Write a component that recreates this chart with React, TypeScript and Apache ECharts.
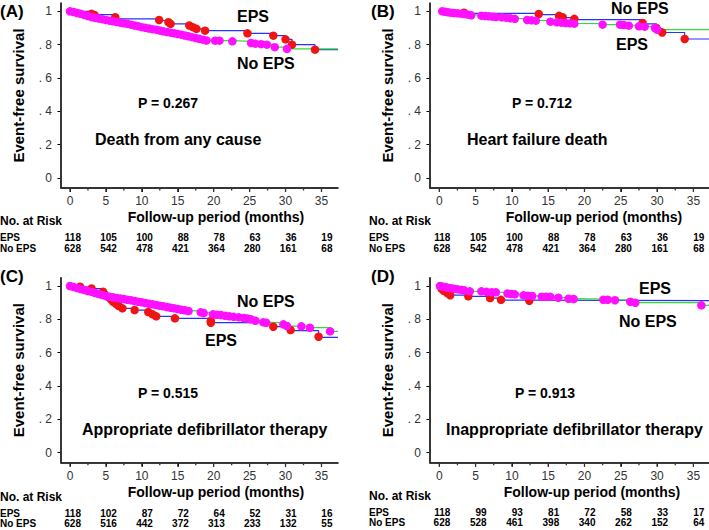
import React, { useEffect, useRef } from "react";
import * as echarts from "echarts";

// ---------- DATA ----------
const panelLetters = ["(A)", "(B)", "(C)", "(D)"];
const endpointTitles = [
  "Death from any cause",
  "Heart failure death",
  "Appropriate defibrillator therapy",
  "Inappropriate defibrillator therapy",
];
const pValues = ["P = 0.267", "P = 0.712", "P = 0.515", "P = 0.913"];
const groupNames = ["EPS", "No EPS"];
const xTicks = [0, 5, 10, 15, 20, 25, 30, 35];
const xMinorTicks = [2.5, 7.5, 12.5, 17.5, 22.5, 27.5, 32.5];
const yTicks = [0, 0.2, 0.4, 0.6, 0.8, 1];
const yMinorTicks = [0.1, 0.3, 0.5, 0.7, 0.9];
const riskTimes = [0, 5, 10, 15, 20, 25, 30, 35];

// Panel A: death from any cause
const epsCurveA = [[0, 1], [3.2, 0.98], [6.4, 0.955], [12.4, 0.945], [13.7, 0.935], [14.0, 0.925], [16.6, 0.915], [17.1, 0.905], [17.6, 0.895], [18.8, 0.884], [24.7, 0.868], [28.3, 0.854], [30.0, 0.832], [30.9, 0.8], [34.1, 0.77], [37.3, 0.77]];
const epsDotsA = [[3.0, 0.985], [3.4, 0.978], [6.3, 0.965], [12.4, 0.948], [13.7, 0.935], [14.0, 0.925], [16.6, 0.915], [17.1, 0.905], [17.6, 0.895], [18.8, 0.884], [24.7, 0.868], [28.3, 0.854], [30.0, 0.832], [30.9, 0.8], [34.1, 0.77]];
const noEpsDotsA = [[0, 1], [0.5, 0.996], [1.0, 0.99], [1.5, 0.985], [2.0, 0.978], [2.5, 0.972], [3.0, 0.965], [3.5, 0.961], [4.0, 0.957], [4.5, 0.953], [5.0, 0.948], [5.5, 0.944], [6.0, 0.94], [6.5, 0.936], [7.0, 0.932], [7.5, 0.928], [8.0, 0.925], [8.5, 0.92], [9.0, 0.915], [9.5, 0.91], [10.0, 0.905], [10.5, 0.901], [11.0, 0.897], [11.5, 0.893], [12.0, 0.89], [12.5, 0.885], [13.0, 0.88], [13.5, 0.876], [14.0, 0.872], [14.5, 0.868], [15.0, 0.864], [15.5, 0.86], [16.0, 0.855], [16.5, 0.85], [17.0, 0.845], [17.5, 0.84], [18.0, 0.835], [18.5, 0.83], [19.0, 0.825], [20.2, 0.824], [20.8, 0.824], [22.6, 0.82], [25.2, 0.81], [25.8, 0.806], [26.6, 0.803], [27.4, 0.8], [28.5, 0.785], [30.2, 0.775]];
const noEpsEndA = [37.3, 0.772];
const riskEpsA = [118, 105, 100, 88, 78, 63, 36, 19];
const riskNoEpsA = [628, 542, 478, 421, 364, 280, 161, 68];

// Panel B: heart failure death
const epsCurveB = [[0, 1], [3.4, 0.988], [13.7, 0.98], [16.5, 0.972], [17.0, 0.962], [18.6, 0.95], [28.0, 0.925], [29.9, 0.895], [30.7, 0.873], [33.8, 0.834], [37.15, 0.834]];
const epsDotsB = [[3.4, 0.992], [13.7, 0.984], [16.5, 0.973], [17.0, 0.965], [18.6, 0.955], [28.0, 0.93], [29.9, 0.9], [30.7, 0.873], [33.8, 0.834]];
const noEpsDotsB = [[0.4, 1.0], [0.8, 0.997], [1.2, 0.994], [1.6, 0.992], [2.0, 0.99], [2.5, 0.988], [3.0, 0.986], [3.5, 0.984], [4.0, 0.98], [4.4, 0.976], [5.8, 0.974], [6.3, 0.972], [6.8, 0.97], [7.3, 0.968], [7.8, 0.966], [8.6, 0.964], [9.2, 0.962], [9.8, 0.958], [10.4, 0.955], [12.1, 0.948], [12.7, 0.946], [13.3, 0.944], [15.3, 0.938], [16.2, 0.934], [16.8, 0.932], [17.4, 0.93], [18.0, 0.928], [18.6, 0.926], [22.5, 0.92], [24.9, 0.92], [25.4, 0.918], [26.1, 0.914], [27.5, 0.91], [28.3, 0.908], [29.7, 0.9], [30.0, 0.89]];
const noEpsEndB = [37.15, 0.886];
const riskEpsB = [118, 105, 100, 88, 78, 63, 36, 19];
const riskNoEpsB = [628, 542, 478, 421, 364, 280, 161, 68];

// Panel C: appropriate defibrillator therapy
const epsCurveC = [[0, 1], [1.4, 0.994], [3.0, 0.984], [4.6, 0.966], [5.2, 0.945], [5.6, 0.926], [6.0, 0.91], [6.3, 0.896], [6.8, 0.88], [7.2, 0.866], [9.0, 0.856], [10.9, 0.844], [11.5, 0.83], [12.0, 0.818], [14.6, 0.806], [19.6, 0.78], [28.3, 0.756], [30.7, 0.732], [34.6, 0.692], [37.3, 0.692]];
const epsDotsC = [[1.4, 0.996], [3.0, 0.985], [4.6, 0.966], [5.3, 0.935], [5.7, 0.92], [6.0, 0.905], [6.4, 0.893], [6.8, 0.88], [7.3, 0.866], [9.0, 0.856], [10.9, 0.844], [11.5, 0.83], [12.0, 0.818], [14.6, 0.806], [19.6, 0.79], [19.6, 0.78], [28.3, 0.756], [30.7, 0.736], [34.6, 0.696]];
const noEpsDotsC = [[0, 1.0], [0.5, 0.994], [1.0, 0.988], [1.5, 0.982], [2.0, 0.976], [2.5, 0.97], [3.0, 0.965], [3.5, 0.958], [4.0, 0.952], [4.5, 0.946], [5.0, 0.94], [5.5, 0.936], [6.0, 0.932], [6.5, 0.928], [7.0, 0.925], [7.5, 0.922], [8.0, 0.918], [8.5, 0.914], [9.0, 0.91], [9.5, 0.906], [10.0, 0.902], [10.5, 0.898], [11.0, 0.894], [11.5, 0.89], [12.0, 0.886], [12.5, 0.882], [13.0, 0.878], [13.5, 0.874], [14.0, 0.87], [14.5, 0.866], [15.0, 0.862], [15.5, 0.858], [16.0, 0.854], [16.5, 0.85], [18.2, 0.842], [18.6, 0.838], [19.9, 0.83], [20.4, 0.828], [21.0, 0.826], [21.6, 0.822], [22.2, 0.818], [22.8, 0.815], [23.5, 0.812], [24.2, 0.808], [24.7, 0.805], [25.2, 0.8], [25.8, 0.792], [26.9, 0.782], [27.3, 0.78], [29.7, 0.77], [30.2, 0.76], [32.2, 0.758], [33.4, 0.75], [36.2, 0.728]];
const noEpsEndC = [37.3, 0.726];
const riskEpsC = [118, 102, 87, 72, 64, 52, 31, 16];
const riskNoEpsC = [628, 516, 442, 372, 313, 233, 132, 55];

// Panel D: inappropriate defibrillator therapy
const epsCurveD = [[0, 1], [0.3, 0.983], [0.6, 0.97], [1.1, 0.956], [1.5, 0.946], [4.0, 0.938], [7.0, 0.928], [8.5, 0.916], [12.4, 0.912], [37.15, 0.912]];
const epsDotsD = [[0.3, 0.985], [0.6, 0.972], [1.1, 0.958], [1.5, 0.945], [4.0, 0.938], [7.0, 0.928], [8.5, 0.917], [12.4, 0.912]];
const noEpsDotsD = [[0.1, 1.0], [0.4, 0.997], [0.8, 0.994], [1.2, 0.99], [1.6, 0.986], [2.0, 0.984], [2.5, 0.98], [3.0, 0.977], [3.4, 0.975], [4.2, 0.968], [5.8, 0.968], [6.5, 0.965], [7.2, 0.963], [7.8, 0.962], [9.4, 0.955], [9.9, 0.952], [10.4, 0.95], [11.6, 0.944], [12.2, 0.942], [12.8, 0.94], [14.1, 0.936], [14.7, 0.936], [15.3, 0.935], [16.4, 0.93], [17.8, 0.924], [18.5, 0.922], [22.6, 0.918], [23.2, 0.918], [24.2, 0.915], [26.3, 0.906], [27.0, 0.9], [36.1, 0.884]];
const noEpsEndD = [37.15, 0.882];
const riskEpsD = [118, 99, 93, 81, 72, 58, 33, 17];
const riskNoEpsD = [628, 528, 461, 398, 340, 262, 152, 64];

// ---------- LAYOUT ----------
const panels = [
  { eps: epsCurveA, epsDots: epsDotsA, noDots: noEpsDotsA, noEnd: noEpsEndA, rE: riskEpsA, rN: riskNoEpsA,
    left: 61, top: 3, width: 277, height: 185, xMin: -1.25, xMax: 37.3, rows: [237.7, 248.3],
    letter: [0, 11], riskTitle: [0, 221], xPad: 33,
    epsLbl: [237, 16], noLbl: [237, 63], pLbl: [138, 103], tLbl: [95, 139] },
  { eps: epsCurveB, epsDots: epsDotsB, noDots: noEpsDotsB, noEnd: noEpsEndB, rE: riskEpsB, rN: riskNoEpsB,
    left: 430, top: 3, width: 279, height: 185, xMin: -1.28, xMax: 37.15, rows: [237.7, 248.3],
    letter: [371, 11], riskTitle: [369, 221], xPad: 49,
    epsLbl: [616, 44], noLbl: [611, 8], pLbl: [512, 103], tLbl: [467, 139] },
  { eps: epsCurveC, epsDots: epsDotsC, noDots: noEpsDotsC, noEnd: noEpsEndC, rE: riskEpsC, rN: riskNoEpsC,
    left: 61, top: 277.7, width: 277, height: 185, xMin: -1.25, xMax: 37.3, rows: [513.3, 523.3],
    letter: [0, 276], riskTitle: [0, 497], xPad: 33,
    epsLbl: [205, 340], noLbl: [237, 301], pLbl: [138, 393], tLbl: [82, 429] },
  { eps: epsCurveD, epsDots: epsDotsD, noDots: noEpsDotsD, noEnd: noEpsEndD, rE: riskEpsD, rN: riskNoEpsD,
    left: 430, top: 277.7, width: 279, height: 185, xMin: -1.28, xMax: 37.15, rows: [512.7, 522.7],
    letter: [371, 276], riskTitle: [369, 496], xPad: 45,
    epsLbl: [639, 288], noLbl: [619, 321], pLbl: [515, 393], tLbl: [446, 429] },
];

const Y_MIN = -0.06;
const Y_MAX = 1.05;
const FONT = "'Liberation Sans', Arial, Helvetica, sans-serif";
const NARROW = "'Liberation Sans Narrow', 'Arial Narrow', 'Liberation Sans', sans-serif";
const AXIS_COLOR = "#333";
const BLUE = "#2233ff";
const GREEN = "#33dd33";
const RED = "#f01414";
const MAGENTA = "#ff10ff";
// tick lengths expressed in axis units (about 4 / 2.5 px down, 3.5 / 2 px left)
const X_TICK_MAJOR = 0.024;
const X_TICK_MINOR = 0.015;
const Y_TICK_MAJOR = 0.49;
const Y_TICK_MINOR = 0.28;

function yFmt(v: number) {
  if (Math.abs(v) < 1e-9) return "0";
  if (Math.abs(v - 1) < 1e-9) return "1";
  return ". " + Math.round(v * 10);
}

function tickSegments(values: number[], along: "x" | "y", base: number, len: number) {
  const out: any[] = [];
  values.forEach((v) => {
    if (along === "x") {
      out.push([v, base], [v, base - len], [v, "-"]);
    } else {
      out.push([base, v], [base - len, v], ["-", v]);
    }
  });
  return out;
}

function buildOption() {
  const grid: any[] = [];
  const xAxis: any[] = [];
  const yAxis: any[] = [];
  const series: any[] = [];

  panels.forEach((p, i) => {
    grid.push({ left: p.left, top: p.top, width: p.width, height: p.height });
    xAxis.push({
      type: "value", gridIndex: i, min: p.xMin, max: p.xMax,
      name: "Follow-up period (months)", nameLocation: "middle", nameGap: 22,
      nameTextStyle: { fontSize: 14, fontWeight: "bold", color: "#000", fontFamily: FONT, padding: [0, 0, 0, p.xPad] },
      axisLine: { show: true, onZero: false, lineStyle: { color: "#000", width: 1.5 } },
      axisTick: { show: true, length: 4, customValues: xTicks },
      axisLabel: { show: true, customValues: xTicks, margin: 7, fontSize: 12, color: "#333", fontFamily: NARROW },
      splitLine: { show: false },
    });
    yAxis.push({
      type: "value", gridIndex: i, min: Y_MIN, max: Y_MAX,
      name: "Event-free survival", nameLocation: "middle", nameGap: 35,
      nameTextStyle: { fontSize: 15, fontWeight: "bold", color: "#000", fontFamily: FONT },
      axisLine: { show: true, onZero: false, lineStyle: { color: "#000", width: 1.5 } },
      axisTick: { show: true, length: 3.5, customValues: yTicks },
      axisLabel: { show: true, customValues: yTicks, margin: 9, fontSize: 12, color: "#333", fontFamily: NARROW, formatter: yFmt },
      splitLine: { show: false },
    });

    // axis frame and ticks as plain line series on the same scales
    const frame = (data: any[]) => ({
      type: "line", xAxisIndex: i, yAxisIndex: i, data, symbol: "none", clip: false, silent: true,
      connectNulls: false, lineStyle: { color: AXIS_COLOR, width: 1.3 }, z: 1,
    });
    series.push(frame([[p.xMin, Y_MIN], [p.xMax, Y_MIN]]));
    series.push(frame([[p.xMin, Y_MIN], [p.xMin, Y_MAX]]));
    series.push(frame(tickSegments(xTicks, "x", Y_MIN, X_TICK_MAJOR)));
    series.push(frame(tickSegments(xMinorTicks, "x", Y_MIN, X_TICK_MINOR)));
    series.push(frame(tickSegments(yTicks, "y", p.xMin, Y_TICK_MAJOR)));
    series.push(frame(tickSegments(yMinorTicks, "y", p.xMin, Y_TICK_MINOR)));

    series.push({
      type: "line", name: "EPS", step: "end", xAxisIndex: i, yAxisIndex: i,
      data: p.eps, symbol: "none", lineStyle: { color: BLUE, width: 1.2 }, z: 2,
    });
    series.push({
      type: "line", name: "No EPS", step: "end", xAxisIndex: i, yAxisIndex: i,
      data: [[0, 1], ...p.noDots, p.noEnd], symbol: "none", lineStyle: { color: GREEN, width: 1.2 }, z: 2,
    });
    series.push({
      type: "scatter", xAxisIndex: i, yAxisIndex: i, data: p.epsDots,
      symbolSize: 8.5, itemStyle: { color: RED, opacity: 1 }, z: 3,
    });
    series.push({
      type: "scatter", xAxisIndex: i, yAxisIndex: i, data: p.noDots,
      symbolSize: 8.5, itemStyle: { color: MAGENTA, opacity: 1 }, z: 4,
    });
  });
  return { animation: false, grid, xAxis, yAxis, series };
}

function buildGraphic(chart: any) {
  const g: any[] = [];
  const txt = (x: number, y: number, text: string, size: number, align = "left", extra: any = {}) => ({
    type: "text", x, y, silent: true, z: 10,
    style: { text, fontSize: size, fontWeight: "bold", fill: "#000", fontFamily: FONT, align, verticalAlign: "middle", ...extra },
  });
  panels.forEach((p, i) => {
    const px = (t: number) => chart.convertToPixel({ xAxisIndex: i }, t) as number;
    // risk table, columns placed by the x scale
    g.push(txt(p.riskTitle[0], p.riskTitle[1], "No. at Risk", 12));
    g.push(txt(p.riskTitle[0], p.rows[0], groupNames[0], 10, "left", { lineHeight: 9 }));
    g.push(txt(p.riskTitle[0], p.rows[1], groupNames[1], 10, "left", { lineHeight: 9 }));
    riskTimes.forEach((t, k) => {
      g.push(txt(px(t) + 11, p.rows[0], String(p.rE[k]), 10, "right", { lineHeight: 9 }));
      g.push(txt(px(t) + 11, p.rows[1], String(p.rN[k]), 10, "right", { lineHeight: 9 }));
    });
    // annotations
    g.push(txt(p.letter[0], p.letter[1], panelLetters[i], 17));
    g.push(txt(p.epsLbl[0], p.epsLbl[1], groupNames[0], 16));
    g.push(txt(p.noLbl[0], p.noLbl[1], groupNames[1], 16));
    g.push(txt(p.pLbl[0], p.pLbl[1], pValues[i], 14));
    g.push(txt(p.tLbl[0], p.tLbl[1], endpointTitles[i], 16));
  });
  return g;
}

export default function App() {
  const ref = useRef<HTMLDivElement>(null);
  useEffect(() => {
    if (!ref.current) return;
    const chart = echarts.init(ref.current, undefined, { renderer: "svg" });
    chart.setOption(buildOption() as any);
    chart.setOption({ graphic: buildGraphic(chart) } as any);
    return () => chart.dispose();
  }, []);
  return <div ref={ref} style={{ position: "absolute", left: 0, top: 0, width: 709, height: 530 }} />;
}
